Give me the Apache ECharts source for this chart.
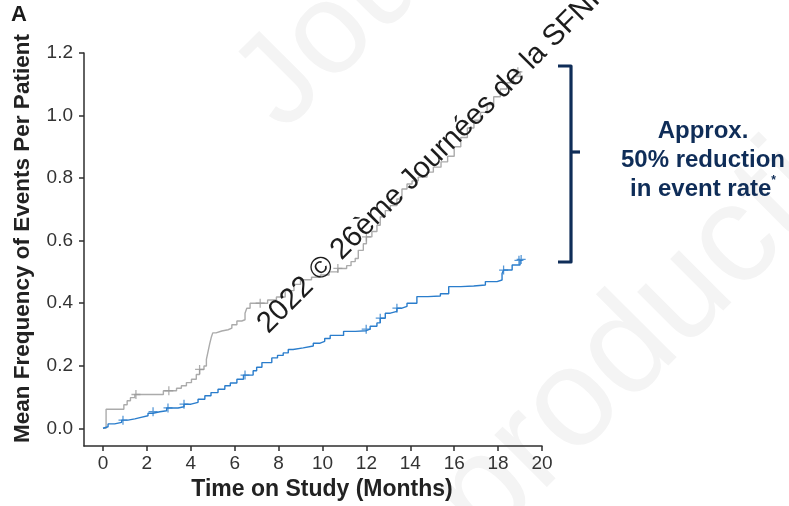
<!DOCTYPE html>
<html>
<head>
<meta charset="utf-8">
<script src="https://cdn.jsdelivr.net/npm/echarts@6/dist/echarts.min.js"></script>
<style>
  html, body { margin: 0; padding: 0; background: #ffffff; }
  #chart { width: 789px; height: 506px; }
</style>
</head>
<body>
<div id="chart"></div>
<script>
// Tick labels
const xTicks = [0, 2, 4, 6, 8, 10, 12, 14, 16, 18, 20];
const yTicks = [0, 0.2, 0.4, 0.6, 0.8, 1.0, 1.2];

// Control arm (grey): mean cumulative events per patient, step times in months
const controlTime = [0, 0.14, 0.95, 1.1, 1.25, 1.45, 2.75, 3.35, 3.57, 3.8, 4.03, 4.25, 4.4, 4.6, 4.71, 4.79, 4.86, 4.93, 5.0,
  5.15, 5.41, 5.7, 5.87, 6.1, 6.32, 6.47, 6.55, 6.7, 7.5, 7.9, 8.3, 8.7, 9.0, 9.5, 9.9, 10.3, 10.7, 11.1, 11.3, 11.49,
  11.63, 11.86, 12.0, 12.25, 12.48, 12.63, 12.86, 13.09, 13.39, 13.62, 13.85, 14.08, 14.36, 14.76, 15.05, 15.4, 15.7,
  16.0, 16.3, 16.6, 16.9, 17.2, 17.5, 17.8, 18.1, 18.4, 18.7, 19.0, 19.05];
const controlMean = [0, 0.061, 0.075, 0.088, 0.098, 0.108, 0.12, 0.128, 0.136, 0.146, 0.157, 0.172, 0.188, 0.199, 0.22, 0.247, 0.27, 0.29, 0.305,
  0.311, 0.315, 0.32, 0.331, 0.343, 0.347, 0.368, 0.384, 0.40, 0.41, 0.42, 0.44, 0.46, 0.475, 0.483, 0.49, 0.50, 0.511, 0.52, 0.533, 0.543,
  0.569, 0.59, 0.612, 0.629, 0.649, 0.676, 0.696, 0.712, 0.733, 0.765, 0.781, 0.791, 0.803, 0.819, 0.835, 0.852, 0.87,
  0.90, 0.93, 0.96, 0.985, 1.01, 1.035, 1.06, 1.085, 1.105, 1.125, 1.14, 1.14];
const controlCensorTime = [1.5, 3.0, 4.4, 7.16, 10.7, 12.0, 18.9];
const controlCensorMean = [0.108, 0.12, 0.188, 0.40, 0.511, 0.612, 1.14];

// Treatment arm (blue)
const treatTime = [0, 0.05, 0.23, 0.53, 0.85, 1.14, 1.45, 1.73, 2.05, 2.28, 2.59, 2.9, 3.42, 3.69, 4.01, 4.33, 4.64, 4.92,
  5.24, 5.55, 5.8, 6.1, 6.4, 6.84, 7.0, 7.24, 7.69, 7.95, 8.21, 8.44, 8.66, 9.12, 9.58, 9.89, 10.1, 10.35, 10.96, 11.5,
  11.99, 12.17, 12.48, 12.63, 12.86, 13.09, 13.39, 13.62, 13.85, 14.3, 14.8, 15.37, 15.75, 16.3, 16.89, 17.42, 17.95,
  18.18, 18.25, 18.64, 19.0, 19.1];
const treatMean = [0, 0.005, 0.014, 0.019, 0.026, 0.03, 0.035, 0.04, 0.048, 0.053, 0.056, 0.065, 0.069, 0.077, 0.083, 0.093, 0.104, 0.114,
  0.125, 0.136, 0.145, 0.157, 0.17, 0.184, 0.195, 0.21, 0.225, 0.233, 0.241, 0.252, 0.257, 0.263, 0.272, 0.278, 0.287, 0.297, 0.31, 0.312,
  0.317, 0.326, 0.337, 0.352, 0.368, 0.374, 0.384, 0.39, 0.40, 0.421, 0.423, 0.43, 0.453, 0.455, 0.458, 0.469, 0.474,
  0.495, 0.506, 0.522, 0.537, 0.537];
const treatCensorTime = [0.91, 2.28, 2.96, 3.69, 6.47, 11.99, 12.63, 13.39, 18.25, 18.95, 19.05];
const treatCensorMean = [0.026, 0.053, 0.065, 0.077, 0.17, 0.317, 0.352, 0.384, 0.506, 0.537, 0.54];

const zip = (a, b) => a.map((v, i) => [v, b[i]]);

const GREY = '#ababab';
const BLUE = '#2a7dcc';
const NAVY = '#0f2d58';
const AXIS = '#2e2e2e';
const PLUS = 'path://M4.3,0H5.7V4.3H10V5.7H5.7V10H4.3V5.7H0V4.3H4.3Z';
const FONT = '"Liberation Sans", Arial, sans-serif';

const chart = echarts.init(document.getElementById('chart'), null, { renderer: 'canvas' });

chart.setOption({
  animation: false,
  backgroundColor: '#ffffff',
  textStyle: { fontFamily: FONT },
  grid: { left: 84, right: 247, top: 53, bottom: 57, containLabel: false },
  xAxis: {
    type: 'value',
    min: -0.866,
    max: 20,
    splitLine: { show: false },
    axisLine: { show: true, onZero: false, lineStyle: { color: AXIS, width: 1.5 } },
    axisTick: { show: true, customValues: xTicks, length: 5, lineStyle: { color: AXIS, width: 1.5 } },
    axisLabel: { customValues: xTicks, fontSize: 19, color: '#333333', margin: 8, fontFamily: FONT },
    name: 'Time on Study (Months)',
    nameLocation: 'middle',
    nameGap: 30,
    nameTextStyle: { fontSize: 23, fontWeight: 'bold', color: '#222222', fontFamily: FONT, padding: [0, 0, 0, 18] }
  },
  yAxis: {
    type: 'value',
    min: -0.057,
    max: 1.2,
    splitLine: { show: false },
    axisLine: { show: true, onZero: false, lineStyle: { color: AXIS, width: 1.5 } },
    axisTick: { show: true, customValues: yTicks, length: 5, lineStyle: { color: AXIS, width: 1.5 } },
    axisLabel: { customValues: yTicks, fontSize: 19, color: '#333333', margin: 11, fontFamily: FONT,
      formatter: v => v.toFixed(1) },
    name: 'Mean Frequency of Events Per Patient',
    nameLocation: 'middle',
    nameGap: 50,
    nameTextStyle: { fontSize: 22.5, fontWeight: 'bold', color: '#222222', fontFamily: FONT, padding: [0, 0, 0, 22] }
  },
  series: [
    {
      type: 'line', step: 'end', showSymbol: false, silent: true, z: 3,
      data: zip(controlTime, controlMean),
      lineStyle: { color: GREY, width: 1.4 }
    },
    {
      type: 'scatter', symbol: PLUS, symbolSize: 9, silent: true, z: 4,
      data: zip(controlCensorTime, controlCensorMean),
      itemStyle: { color: '#9a9a9a' }
    },
    {
      type: 'line', step: 'end', showSymbol: false, silent: true, z: 3,
      data: zip(treatTime, treatMean),
      lineStyle: { color: BLUE, width: 1.4 }
    },
    {
      type: 'scatter', symbol: PLUS, symbolSize: 9, silent: true, z: 4,
      data: zip(treatCensorTime, treatCensorMean),
      itemStyle: { color: BLUE }
    }
  ],
  graphic: [
    {
      // faint background imprint
      type: 'text', x: 212, y: 62, rotation: Math.PI / 4, z: -10, silent: true,
      style: { text: 'Journées', font: '130px ' + FONT, fill: '#f4f4f4', align: 'left', verticalAlign: 'top' }
    },
    {
      type: 'text', x: 320, y: 560, rotation: Math.PI / 4, z: -10, silent: true,
      style: { text: 'reproduction', font: '140px ' + FONT, fill: '#f4f4f4', align: 'left', verticalAlign: 'top' }
    },
    {
      type: 'text', left: 11, top: 4, z: 10,
      style: { text: 'A', font: 'bold 22px ' + FONT, fill: '#1a1a1a' }
    },
    {
      // bracket spanning the gap between both arms at study end
      type: 'polyline', z: 10,
      shape: { points: [[558, 66], [571, 66], [571, 262], [558, 262]] },
      style: { stroke: NAVY, lineWidth: 3.2, fill: null, lineJoin: 'round', lineCap: 'butt' }
    },
    {
      type: 'line', z: 10,
      shape: { x1: 571, y1: 152, x2: 580, y2: 152 },
      style: { stroke: NAVY, lineWidth: 3.2 }
    },
    {
      type: 'text', x: 703, y: 160, z: 10,
      style: {
        text: 'Approx.\n50% reduction\nin event rate{sup|*}',
        align: 'center', verticalAlign: 'middle',
        font: 'bold 24px ' + FONT, fill: NAVY, lineHeight: 29,
        rich: { sup: { font: 'bold 12px ' + FONT, fill: NAVY, verticalAlign: 'top', padding: [0, 0, 10, 0] } }
      }
    },
    {
      type: 'text', x: 273, y: 339, rotation: Math.PI / 4, z: 20,
      style: {
        text: '2022 © 26ème Journées de la SFNP',
        font: '29.5px ' + FONT, fill: '#1c1c1c',
        align: 'left', verticalAlign: 'bottom'
      }
    }
  ]
});
</script>
</body>
</html>
